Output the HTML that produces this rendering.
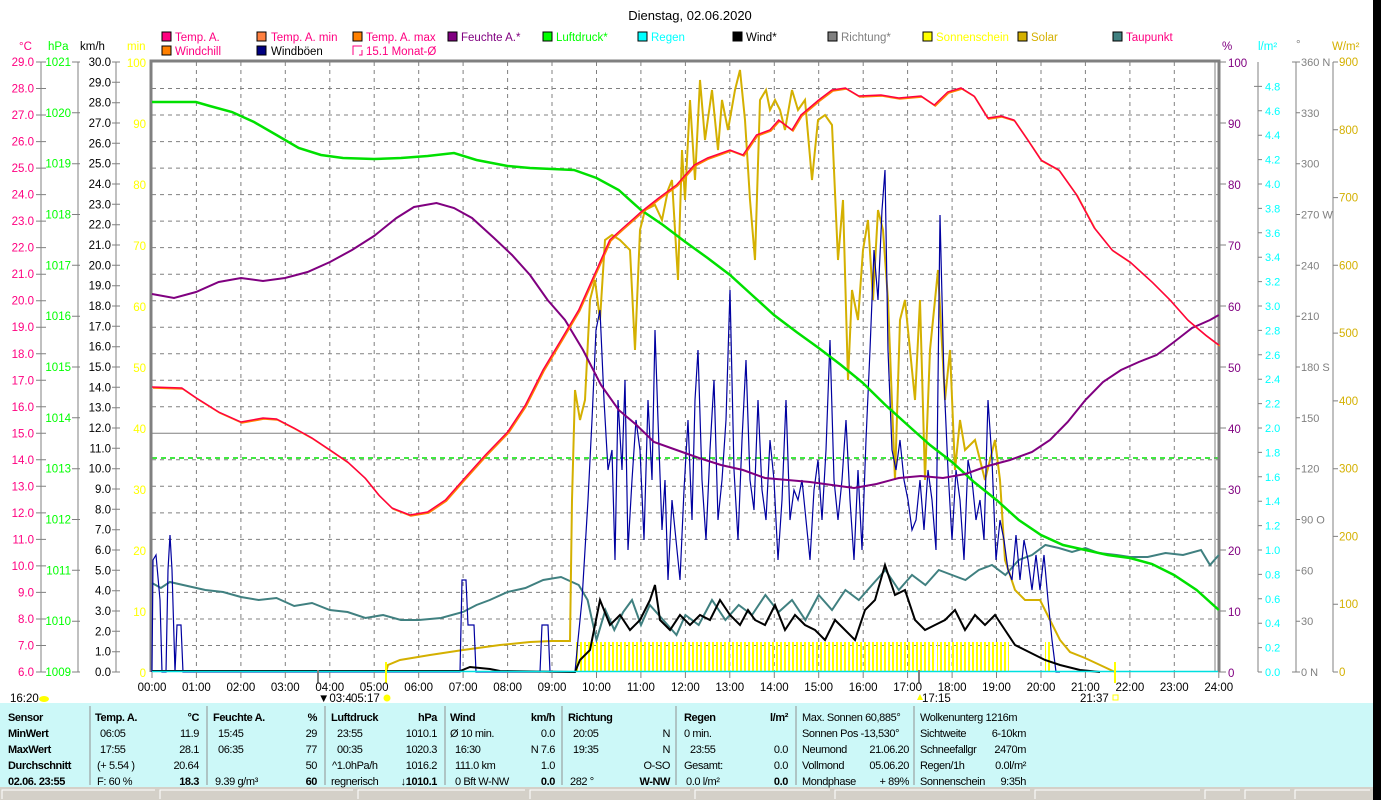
<!DOCTYPE html>
<html><head><meta charset="utf-8"><style>
html,body{margin:0;padding:0;background:#fff;width:1381px;height:800px;overflow:hidden}
svg{display:block;font-family:"Liberation Sans",sans-serif;font-size:12px}
.tb{font-size:11px;fill:#000;letter-spacing:-0.4px}
.b{font-weight:bold}
</style></head><body>
<svg width="1381" height="800" viewBox="0 0 1381 800" xmlns="http://www.w3.org/2000/svg">
<defs>
<pattern id="ss" width="4" height="30" patternUnits="userSpaceOnUse"><rect x="0" y="0" width="2" height="30" fill="#ffff00"/></pattern>
</defs>
<rect x="1373" y="0" width="8" height="800" fill="#000"/>
<text x="690" y="20" text-anchor="middle" font-size="13">Dienstag, 02.06.2020</text>
<g font-size="11.5">
<rect x="162" y="32" width="9" height="9" fill="#ff0080" stroke="#000"/><text x="175" y="41" fill="#ff0080">Temp. A.</text>
<rect x="257" y="32" width="9" height="9" fill="#ff8040" stroke="#000"/><text x="271" y="41" fill="#ff0080">Temp. A. min</text>
<rect x="353" y="32" width="9" height="9" fill="#ff8000" stroke="#000"/><text x="366" y="41" fill="#ff0080">Temp. A. max</text>
<rect x="448" y="32" width="9" height="9" fill="#800080" stroke="#000"/><text x="461" y="41" fill="#800080">Feuchte A.*</text>
<rect x="543" y="32" width="9" height="9" fill="#00ff00" stroke="#000"/><text x="556" y="41" fill="#00ff00">Luftdruck*</text>
<rect x="638" y="32" width="9" height="9" fill="#00ffff" stroke="#000"/><text x="651" y="41" fill="#00ffff">Regen</text>
<rect x="733" y="32" width="9" height="9" fill="#000" stroke="#000"/><text x="746" y="41" fill="#000">Wind*</text>
<rect x="828" y="32" width="9" height="9" fill="#808080" stroke="#000"/><text x="841" y="41" fill="#808080">Richtung*</text>
<rect x="923" y="32" width="9" height="9" fill="#ffff00" stroke="#000"/><text x="936" y="41" fill="#ffff00">Sonnenschein</text>
<rect x="1018" y="32" width="9" height="9" fill="#d4b000" stroke="#000"/><text x="1031" y="41" fill="#d4b000">Solar</text>
<rect x="1113" y="32" width="9" height="9" fill="#408080" stroke="#000"/><text x="1126" y="41" fill="#ff0080">Taupunkt</text>
<rect x="162" y="46" width="9" height="9" fill="#ff8000" stroke="#000"/><text x="175" y="55" fill="#ff0080">Windchill</text>
<rect x="257" y="46" width="9" height="9" fill="#000080" stroke="#000"/><text x="271" y="55" fill="#000">Windböen</text>
<path d="M353 55 V46 H362 M362 50 V55 H359" stroke="#ff0080" fill="none"/><text x="366" y="55" fill="#ff0080">15.1 Monat-Ø</text>
</g>
<g font-size="11.5">
<text x="19" y="50" fill="#ff0080">°C</text><text x="48" y="50" fill="#00ff00">hPa</text><text x="80" y="50" fill="#000">km/h</text><text x="127" y="50" fill="#ffff00">min</text>
<text x="1222" y="50" fill="#800080">%</text><text x="1258" y="50" fill="#00ffff">l/m²</text><text x="1296" y="48" fill="#808080">°</text><text x="1332" y="50" fill="#d4b000">W/m²</text>
</g>
<g stroke="#808080" stroke-dasharray="4,4" stroke-width="1">
<path d="M152 88.5H1218M152 115H1218M152 141.6H1218M152 168.1H1218M152 194.6H1218M152 221.1H1218M152 247.6H1218M152 274.2H1218M152 300.7H1218M152 327.2H1218M152 353.8H1218M152 380.3H1218M152 406.8H1218M152 459.8H1218M152 486.3H1218M152 512.9H1218M152 539.4H1218M152 565.9H1218M152 592.4H1218M152 619H1218M152 645.5H1218"/>
<path d="M196.4 62V672M240.9 62V672M285.3 62V672M329.8 62V672M374.2 62V672M418.7 62V672M463.1 62V672M507.6 62V672M552 62V672M596.5 62V672M640.9 62V672M685.4 62V672M729.8 62V672M774.3 62V672M818.7 62V672M863.2 62V672M907.6 62V672M952.1 62V672M996.5 62V672M1041 62V672M1085.4 62V672M1129.9 62V672M1174.3 62V672"/>
</g>
<path d="M152 433.3H1218" stroke="#808080" stroke-width="1"/>
<path d="M152 458H1218" stroke="#00e000" stroke-dasharray="5,4" stroke-width="1.5"/>
<path d="M151 672V61H1219V672" stroke="#808080" stroke-width="3" fill="none"/>
<path d="M1215 62V672" stroke="#808080" stroke-width="1"/>
<g stroke="#808080" fill="none"><path d="M41 62V672M78 62V672M116 62V672"/>
<path d="M36 62H46M36 88.5H46M36 115H46M36 141.6H46M36 168.1H46M36 194.6H46M36 221.1H46M36 247.6H46M36 274.2H46M36 300.7H46M36 327.2H46M36 353.8H46M36 380.3H46M36 406.8H46M36 433.3H46M36 459.8H46M36 486.3H46M36 512.9H46M36 539.4H46M36 565.9H46M36 592.4H46M36 619H46M36 645.5H46M36 672H46"/>
<path d="M72 62H80M72 112.8H80M72 163.7H80M72 214.5H80M72 265.3H80M72 316.2H80M72 367H80M72 417.8H80M72 468.7H80M72 519.5H80M72 570.3H80M72 621.2H80M72 672H80"/>
<path d="M112 62H120M112 82.3H120M112 102.7H120M112 123H120M112 143.3H120M112 163.7H120M112 184H120M112 204.3H120M112 224.7H120M112 245H120M112 265.3H120M112 285.7H120M112 306H120M112 326.3H120M112 346.7H120M112 367H120M112 387.3H120M112 407.7H120M112 428H120M112 448.3H120M112 468.7H120M112 489H120M112 509.3H120M112 529.7H120M112 550H120M112 570.3H120M112 590.7H120M112 611H120M112 631.3H120M112 651.7H120M112 672H120"/>
</g>
<g fill="#ff0080" text-anchor="end" font-size="11.5">
<text x="34" y="66">29.0</text><text x="34" y="92.5">28.0</text><text x="34" y="119">27.0</text><text x="34" y="145.6">26.0</text><text x="34" y="172.1">25.0</text><text x="34" y="198.6">24.0</text><text x="34" y="225.1">23.0</text><text x="34" y="251.6">22.0</text><text x="34" y="278.2">21.0</text><text x="34" y="304.7">20.0</text><text x="34" y="331.2">19.0</text><text x="34" y="357.8">18.0</text><text x="34" y="384.3">17.0</text><text x="34" y="410.8">16.0</text><text x="34" y="437.3">15.0</text><text x="34" y="463.8">14.0</text><text x="34" y="490.3">13.0</text><text x="34" y="516.9">12.0</text><text x="34" y="543.4">11.0</text><text x="34" y="569.9">10.0</text><text x="34" y="596.4">9.0</text><text x="34" y="623">8.0</text><text x="34" y="649.5">7.0</text><text x="34" y="676">6.0</text>
</g>
<g fill="#00ff00" text-anchor="end" font-size="11.5">
<text x="71" y="66">1021</text><text x="71" y="116.8">1020</text><text x="71" y="167.7">1019</text><text x="71" y="218.5">1018</text><text x="71" y="269.3">1017</text><text x="71" y="320.2">1016</text><text x="71" y="371">1015</text><text x="71" y="421.8">1014</text><text x="71" y="472.7">1013</text><text x="71" y="523.5">1012</text><text x="71" y="574.3">1011</text><text x="71" y="625.2">1010</text><text x="71" y="676">1009</text>
</g>
<g fill="#000" text-anchor="end" font-size="11.5">
<text x="111" y="66">30.0</text><text x="111" y="86.3">29.0</text><text x="111" y="106.7">28.0</text><text x="111" y="127">27.0</text><text x="111" y="147.3">26.0</text><text x="111" y="167.7">25.0</text><text x="111" y="188">24.0</text><text x="111" y="208.3">23.0</text><text x="111" y="228.7">22.0</text><text x="111" y="249">21.0</text><text x="111" y="269.3">20.0</text><text x="111" y="289.7">19.0</text><text x="111" y="310">18.0</text><text x="111" y="330.3">17.0</text><text x="111" y="350.7">16.0</text><text x="111" y="371">15.0</text><text x="111" y="391.3">14.0</text><text x="111" y="411.7">13.0</text><text x="111" y="432">12.0</text><text x="111" y="452.3">11.0</text><text x="111" y="472.7">10.0</text><text x="111" y="493">9.0</text><text x="111" y="513.3">8.0</text><text x="111" y="533.7">7.0</text><text x="111" y="554">6.0</text><text x="111" y="574.3">5.0</text><text x="111" y="594.7">4.0</text><text x="111" y="615">3.0</text><text x="111" y="635.3">2.0</text><text x="111" y="655.7">1.0</text><text x="111" y="676">0.0</text>
</g>
<g fill="#ffff00" text-anchor="end" font-size="11.5">
<text x="146" y="67">100</text><text x="146" y="128">90</text><text x="146" y="189">80</text><text x="146" y="250">70</text><text x="146" y="311">60</text><text x="146" y="372">50</text><text x="146" y="433">40</text><text x="146" y="494">30</text><text x="146" y="555">20</text><text x="146" y="616">10</text><text x="146" y="677">0</text>
</g>
<g stroke="#808080" fill="none">
<path d="M1219 62H1226M1219 123H1226M1219 184H1226M1219 245H1226M1219 306H1226M1219 367H1226M1219 428H1226M1219 489H1226M1219 550H1226M1219 611H1226M1219 672H1226"/>
<path d="M1258 62V672M1254 86.4H1262M1258 110.8H1262M1258 135.2H1262M1258 159.6H1262M1258 184H1262M1258 208.4H1262M1258 232.8H1262M1258 257.2H1262M1258 281.6H1262M1258 306H1262M1258 330.4H1262M1258 354.8H1262M1258 379.2H1262M1258 403.6H1262M1258 428H1262M1258 452.4H1262M1258 476.8H1262M1258 501.2H1262M1258 525.6H1262M1258 550H1262M1258 574.4H1262M1258 598.8H1262M1258 623.2H1262M1258 647.6H1262M1258 672H1262"/>
<path d="M1296 62V672M1292 62H1300M1296 112.8H1300M1296 163.7H1300M1296 214.5H1300M1296 265.3H1300M1296 316.2H1300M1296 367H1300M1296 417.8H1300M1296 468.7H1300M1296 519.5H1300M1296 570.3H1300M1296 621.2H1300M1292 672H1300"/>
<path d="M1333 62V672M1333 62H1338M1333 129.8H1338M1333 197.6H1338M1333 265.3H1338M1333 333.1H1338M1333 400.9H1338M1333 468.7H1338M1333 536.4H1338M1333 604.2H1338M1333 672H1338"/>
</g>
<g fill="#800080" font-size="11.5">
<text x="1228" y="67">100</text><text x="1228" y="128">90</text><text x="1228" y="189">80</text><text x="1228" y="250">70</text><text x="1228" y="311">60</text><text x="1228" y="372">50</text><text x="1228" y="433">40</text><text x="1228" y="494">30</text><text x="1228" y="555">20</text><text x="1228" y="616">10</text><text x="1228" y="677">0</text>
</g>
<g fill="#00ffff" font-size="11">
<text x="1265" y="90.4">4.8</text><text x="1265" y="114.8">4.6</text><text x="1265" y="139.2">4.4</text><text x="1265" y="163.6">4.2</text><text x="1265" y="188">4.0</text><text x="1265" y="212.4">3.8</text><text x="1265" y="236.8">3.6</text><text x="1265" y="261.2">3.4</text><text x="1265" y="285.6">3.2</text><text x="1265" y="310">3.0</text><text x="1265" y="334.4">2.8</text><text x="1265" y="358.8">2.6</text><text x="1265" y="383.2">2.4</text><text x="1265" y="407.6">2.2</text><text x="1265" y="432">2.0</text><text x="1265" y="456.4">1.8</text><text x="1265" y="480.8">1.6</text><text x="1265" y="505.2">1.4</text><text x="1265" y="529.6">1.2</text><text x="1265" y="554">1.0</text><text x="1265" y="578.4">0.8</text><text x="1265" y="602.8">0.6</text><text x="1265" y="627.2">0.4</text><text x="1265" y="651.6">0.2</text><text x="1265" y="676">0.0</text>
</g>
<g fill="#808080" font-size="11">
<text x="1301" y="66">360 N</text><text x="1301" y="116.8">330</text><text x="1301" y="167.7">300</text><text x="1301" y="218.5">270 W</text><text x="1301" y="269.3">240</text><text x="1301" y="320.2">210</text><text x="1301" y="371">180 S</text><text x="1301" y="421.8">150</text><text x="1301" y="472.7">120</text><text x="1301" y="523.5">90  O</text><text x="1301" y="574.3">60</text><text x="1301" y="625.2">30</text><text x="1301" y="676">0   N</text>
</g>
<g fill="#d4b000" font-size="11.5">
<text x="1339" y="66">900</text><text x="1339" y="133.8">800</text><text x="1339" y="201.6">700</text><text x="1339" y="269.3">600</text><text x="1339" y="337.1">500</text><text x="1339" y="404.9">400</text><text x="1339" y="472.7">300</text><text x="1339" y="540.4">200</text><text x="1339" y="608.2">100</text><text x="1339" y="676">0</text>
</g>
<rect x="575" y="642" width="360" height="30" fill="url(#ss)"/>
<rect x="937" y="642" width="72" height="30" fill="url(#ss)"/>
<rect x="1045" y="642" width="6" height="30" fill="url(#ss)"/>
<polyline fill="none" stroke="#408080" stroke-width="2" points="152,583 160.9,588 169.8,582 187.6,586 205.3,590 223.1,592 240.9,597 258.7,600 276.5,598 294.2,606 312,603 329.8,610 347.6,612 365.4,618 383.1,615 400.9,620 418.7,620 441,618 463,612 476.5,605 489.8,600 507.6,592 525.4,588 543.2,580 561,577 578.7,585 587.6,600 596.5,640 605.4,610 614.3,630 623.2,612 632,600 641,625 649.8,605 663.2,620 676.5,635 685.4,615 698.7,625 712,600 725.4,620 738.7,605 752,615 765.4,595 778.7,612 792,600 805.4,620 818.7,595 832,610 845.4,590 858.8,600 872,585 885.4,570 898.8,590 912,575 925.4,585 938.8,570 952,575 965.4,580 978.8,570 992,565 1005.4,575 1018.8,560 1032,555 1045.4,545 1058.8,548 1072,552 1085.4,548 1098.8,553 1116.6,555 1130,557 1147.7,557 1165.5,553 1183,555 1201,550 1210,565 1218.8,555"/>
<polyline fill="none" stroke="#d4b000" stroke-width="2" points="386,672 388,665 400,660 430,655 463,650 500,645 530,642 552,641 570,641 572,500 575,390 580,420 585,400 590,300 595,280 600,320 605,240 612,235 620,240 630,250 635,350 640,230 645,210 655,205 662,220 668,190 672,180 678,280 682,150 685,200 690,100 695,180 700,80 705,140 712,90 718,150 722,100 728,130 735,90 740,70 745,120 750,200 755,260 760,100 766,90 770,110 775,100 780,110 785,130 792,90 798,110 805,100 812,180 818,120 825,115 832,125 838,260 843,200 848,380 852,290 858,320 863,250 868,220 873,300 878,210 883,230 888,300 895,480 900,320 905,300 910,350 915,400 920,300 925,480 930,350 938,270 945,400 950,350 955,470 960,420 965,450 975,440 985,480 995,440 1000,480 1005,560 1015,590 1025,600 1040,600 1050,620 1060,640 1070,652 1085,658 1100,665 1115,672"/>
<polyline fill="none" stroke="#0000a0" stroke-width="1.2" points="152,672 153,560 156,555 160,600 162,672 166,672 168,570 170,535 172,570 175,672 177,625 181,625 183,672 460,672 462,580 466,580 468,625 474,625 476,672 540,672 542,625 548,625 550,672 575,672 578,640 582,600 588,500 592,420 596,330 600,310 604,400 608,470 612,450 615,560 618,400 622,470 625,380 628,550 632,480 636,420 640,450 644,540 648,400 652,480 655,330 658,420 662,530 665,480 668,580 672,500 676,540 680,580 684,490 688,420 692,520 695,400 698,350 702,480 706,540 710,450 714,380 718,520 722,480 726,420 730,290 734,470 738,540 742,440 746,360 750,480 754,510 758,400 762,490 766,520 770,440 774,480 778,560 782,500 786,400 790,520 794,490 798,500 802,480 806,520 810,560 814,490 818,460 822,520 826,450 830,340 834,480 838,520 842,480 846,420 850,500 854,560 858,470 862,550 866,440 870,350 874,250 878,300 882,210 885,170 888,350 892,450 896,470 900,440 904,480 908,500 912,530 916,520 920,480 924,530 928,470 932,500 936,550 940,215 944,380 948,470 952,540 956,470 960,500 964,560 968,460 972,480 976,520 980,500 984,540 988,400 992,460 996,560 1000,520 1004,540 1008,570 1012,580 1016,535 1020,580 1024,540 1028,560 1032,590 1036,555 1040,590 1044,555 1048,600 1052,640 1056,672 1060,672"/>
<polyline fill="none" stroke="#000" stroke-width="2" points="152,671 185,671 460,671 470,667 490,669 500,671 575,672 580,660 590,650 600,600 610,625 620,615 630,630 640,620 650,600 655,585 660,620 670,630 680,615 690,625 700,615 710,620 720,600 730,615 740,625 748,610 755,620 765,625 775,605 785,630 795,615 805,625 815,630 825,640 835,620 845,630 855,640 865,610 875,600 885,565 895,595 905,590 915,620 925,630 935,625 945,620 955,610 965,630 975,615 985,625 995,615 1005,630 1015,645 1025,650 1035,655 1045,660 1060,665 1080,670 1100,672"/>
<polyline fill="none" stroke="#00e000" stroke-width="2.5" points="152,102 196,102 209.8,106 232,112 254,122 276.5,135 298.7,148 321,155 343,158 374,159 401,158 427.6,156 454,153 476.5,160 507.6,166 530,168 574,170 596.5,178 618.7,190 641,210 663,225 685.4,242 707.6,258 730,275 752,295 774,315 796.5,332 818.7,348 841,365 863,383 885.4,405 907.6,425 930,445 952,462 974,482 996.5,500 1018.8,520 1041,535 1063,545 1085.4,550 1107.7,555 1130,558 1152,564 1174,575 1196.6,590 1218.8,610"/>
<polyline fill="none" stroke="#800080" stroke-width="2" points="152,294 174,298 196,292 218.7,282 241,278 263,281 285,278 307.6,272 330,262 352,250 374,236 396.5,218 414,207 436.5,203 454,208 472,218 494,238 512,255 530,275 547.6,300 565,320 583,350 601,385 618.7,410 636.5,425 654,442 676.5,450 699,458 721,465 743,470 765,478 787.6,480 810,482 832,485 854,488 876.5,484 898.8,478 921,476 943,478 965.4,474 987.7,466 1010,460 1032,452 1050,440 1067.7,422 1085.4,400 1103,382 1121,370 1138.8,362 1156.6,355 1174,342 1192,328 1210,320 1218.8,315"/>
<polyline fill="none" stroke="#ff8000" stroke-width="1.5" transform="translate(1,1)" points="152,387 181.8,388 196.4,398 218.7,412 241,422 263,418 276.5,419 294,428 312,438 330,450 347.6,462 365,478 378.7,495 392,508 409.8,515 427.6,512 445.4,500 463,480 485.4,455 507.6,432 525.4,405 543,370 561,340 578.7,310 596.5,270 609.8,240 623,228 641,212 658.7,198 676.5,185 694.3,165 707.6,158 730,150 743,155 756.5,135 769.9,130 778.7,120 792,130 801,115 818.7,100 832,90 845.4,88 858.8,96 881,95 898.8,98 921,96 934.3,105 947.7,92 961,88 974,96 987.7,118 1001,116 1014,120 1027.7,140 1041,160 1058.8,170 1076.6,195 1094.3,228 1112,250 1130,262 1152,282 1170,300 1187.7,320 1205.5,335 1218.8,345"/>
<polyline fill="none" stroke="#ff0040" stroke-width="1.5" points="152,387 181.8,388 196.4,398 218.7,412 241,422 263,418 276.5,419 294,428 312,438 330,450 347.6,462 365,478 378.7,495 392,508 409.8,515 427.6,512 445.4,500 463,480 485.4,455 507.6,432 525.4,405 543,370 561,340 578.7,310 596.5,270 609.8,240 623,228 641,212 658.7,198 676.5,185 694.3,165 707.6,158 730,150 743,155 756.5,135 769.9,130 778.7,120 792,130 801,115 818.7,100 832,90 845.4,88 858.8,96 881,95 898.8,98 921,96 934.3,105 947.7,92 961,88 974,96 987.7,118 1001,116 1014,120 1027.7,140 1041,160 1058.8,170 1076.6,195 1094.3,228 1112,250 1130,262 1152,282 1170,300 1187.7,320 1205.5,335 1218.8,345"/>
<path d="M152 671.5H1218" stroke="#00e0e0" stroke-width="1.5"/>
<g stroke="#808080"><path d="M152 672V678M196.4 672V678M240.9 672V678M285.3 672V678M329.8 672V678M374.2 672V678M418.7 672V678M463.1 672V678M507.6 672V678M552 672V678M596.5 672V678M640.9 672V678M685.4 672V678M729.8 672V678M774.3 672V678M818.7 672V678M863.2 672V678M907.6 672V678M952.1 672V678M996.5 672V678M1041 672V678M1085.4 672V678M1129.9 672V678M1174.3 672V678M1218.8 672V678"/><path d="M318 670V683M919 670V683" stroke-width="2"/></g>
<path d="M386 662V683M1115 662V683" stroke="#ffff00" stroke-width="2"/>
<g font-size="11.5" text-anchor="middle">
<text x="152" y="691">00:00</text><text x="196.4" y="691">01:00</text><text x="240.9" y="691">02:00</text><text x="285.3" y="691">03:00</text><text x="329.8" y="691">04:00</text><text x="374.2" y="691">05:00</text><text x="418.7" y="691">06:00</text><text x="463.1" y="691">07:00</text><text x="507.6" y="691">08:00</text><text x="552" y="691">09:00</text><text x="596.5" y="691">10:00</text><text x="640.9" y="691">11:00</text><text x="685.4" y="691">12:00</text><text x="729.8" y="691">13:00</text><text x="774.3" y="691">14:00</text><text x="818.7" y="691">15:00</text><text x="863.2" y="691">16:00</text><text x="907.6" y="691">17:00</text><text x="952.1" y="691">18:00</text><text x="996.5" y="691">19:00</text><text x="1041" y="691">20:00</text><text x="1085.4" y="691">21:00</text><text x="1129.9" y="691">22:00</text><text x="1174.3" y="691">23:00</text><text x="1218.8" y="691">24:00</text>
</g>
<g font-size="11.5">
<text x="10" y="702">16:20</text><ellipse cx="44" cy="699" rx="5" ry="3" fill="#ffff00"/>
<text x="318" y="702">▼03:4</text><text x="351" y="702">05:17</text><circle cx="387" cy="698" r="3.5" fill="#ffff00"/>
<text x="922" y="702">17:15</text><path d="M920 700l-3 0l3-6l3 6z" fill="#ffff00"/>
<text x="1080" y="702">21:37</text><rect x="1113" y="695" width="5" height="5" fill="none" stroke="#ffff00"/>
</g>
<rect x="0" y="703" width="1373" height="85" fill="#ccf8f8"/>
<g stroke="#909090"><path d="M90 706V785M207 706V785M325 706V785M445 706V785M562 706V785M676 706V785M796 706V785M914 706V785"/></g>
<rect x="0" y="787" width="1373" height="13" fill="#d4d0c8"/>
<g stroke="#fff" fill="none"><path d="M2 799V790H155M160 799V790H353M358 799V790H525M530 799V790H690M695 799V790H830M835 799V790H1030M1035 799V790H1200M1205 799V790H1240M1245 799V790H1290M1295 799V790H1370"/></g>
<g class="tb">
<text x="8" y="721" class="b">Sensor</text><text x="8" y="737" class="b">MinWert</text><text x="8" y="753" class="b">MaxWert</text><text x="8" y="769" class="b">Durchschnitt</text><text x="8" y="785" class="b">02.06. 23:55</text>
<text x="95" y="721" class="b">Temp. A.</text><text x="199" y="721" class="b" text-anchor="end">°C</text>
<text x="100" y="737">06:05</text><text x="199" y="737" text-anchor="end">11.9</text>
<text x="100" y="753">17:55</text><text x="199" y="753" text-anchor="end">28.1</text>
<text x="97" y="769">(+ 5.54 )</text><text x="199" y="769" text-anchor="end">20.64</text>
<text x="97" y="785">F: 60 %</text><text x="199" y="785" text-anchor="end" class="b">18.3</text>
<text x="213" y="721" class="b">Feuchte A.</text><text x="317" y="721" class="b" text-anchor="end">%</text>
<text x="218" y="737">15:45</text><text x="317" y="737" text-anchor="end">29</text>
<text x="218" y="753">06:35</text><text x="317" y="753" text-anchor="end">77</text>
<text x="317" y="769" text-anchor="end">50</text>
<text x="215" y="785">9.39 g/m³</text><text x="317" y="785" text-anchor="end" class="b">60</text>
<text x="331" y="721" class="b">Luftdruck</text><text x="437" y="721" class="b" text-anchor="end">hPa</text>
<text x="337" y="737">23:55</text><text x="437" y="737" text-anchor="end">1010.1</text>
<text x="337" y="753">00:35</text><text x="437" y="753" text-anchor="end">1020.3</text>
<text x="332" y="769">^1.0hPa/h</text><text x="437" y="769" text-anchor="end">1016.2</text>
<text x="331" y="785">regnerisch</text><text x="437" y="785" text-anchor="end" class="b">↓1010.1</text>
<text x="450" y="721" class="b">Wind</text><text x="555" y="721" class="b" text-anchor="end">km/h</text>
<text x="450" y="737">Ø 10 min.</text><text x="555" y="737" text-anchor="end">0.0</text>
<text x="455" y="753">16:30</text><text x="555" y="753" text-anchor="end">N 7.6</text>
<text x="455" y="769">111.0 km</text><text x="555" y="769" text-anchor="end">1.0</text>
<text x="455" y="785">0 Bft W-NW</text><text x="555" y="785" text-anchor="end" class="b">0.0</text>
<text x="568" y="721" class="b">Richtung</text>
<text x="573" y="737">20:05</text><text x="670" y="737" text-anchor="end">N</text>
<text x="573" y="753">19:35</text><text x="670" y="753" text-anchor="end">N</text>
<text x="670" y="769" text-anchor="end">O-SO</text>
<text x="570" y="785">282 °</text><text x="670" y="785" text-anchor="end" class="b">W-NW</text>
<text x="684" y="721" class="b">Regen</text><text x="788" y="721" class="b" text-anchor="end">l/m²</text>
<text x="684" y="737">0 min.</text>
<text x="690" y="753">23:55</text><text x="788" y="753" text-anchor="end">0.0</text>
<text x="684" y="769">Gesamt:</text><text x="788" y="769" text-anchor="end">0.0</text>
<text x="686" y="785">0.0 l/m²</text><text x="788" y="785" text-anchor="end" class="b">0.0</text>
<text x="802" y="721">Max. Sonnen 60,885°</text>
<text x="802" y="737">Sonnen Pos -13,530°</text>
<text x="802" y="753">Neumond</text><text x="909" y="753" text-anchor="end">21.06.20</text>
<text x="802" y="769">Vollmond</text><text x="909" y="769" text-anchor="end">05.06.20</text>
<text x="802" y="785">Mondphase</text><text x="909" y="785" text-anchor="end">+ 89%</text>
<text x="920" y="721">Wolkenunterg 1216m</text>
<text x="920" y="737">Sichtweite</text><text x="1026" y="737" text-anchor="end">6-10km</text>
<text x="920" y="753">Schneefallgr</text><text x="1026" y="753" text-anchor="end">2470m</text>
<text x="920" y="769">Regen/1h</text><text x="1026" y="769" text-anchor="end">0.0l/m²</text>
<text x="920" y="785">Sonnenschein</text><text x="1026" y="785" text-anchor="end">9:35h</text>
</g>
</svg>
</body></html>
